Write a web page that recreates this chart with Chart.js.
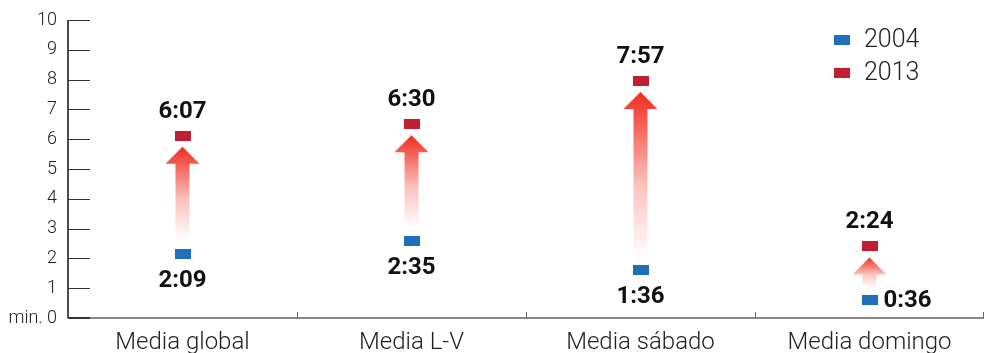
<!DOCTYPE html>
<html>
<head>
<meta charset="utf-8">
<script src="https://cdn.jsdelivr.net/npm/chart.js@4/dist/chart.umd.min.js"></script>
<style>
html,body{margin:0;padding:0;background:#fff;}
#wrap{width:993px;height:353px;position:relative;}
</style>
</head>
<body>
<div id="wrap"><canvas id="c" width="993" height="353"></canvas></div>
<script>
const categories = ['Media global', 'Media L-V', 'Media sábado', 'Media domingo'];
const values2004 = [2.15, 2.583, 1.6, 0.6];
const values2013 = [6.117, 6.5, 7.95, 2.4];
const labels2004 = ['2:09', '2:35', '1:36', '0:36'];
const labels2013 = ['6:07', '6:30', '7:57', '2:24'];
const seriesNames = ['2004', '2013'];
const yTickValues = [0, 1, 2, 3, 4, 5, 6, 7, 8, 9, 10];

const BLUE = '#1f6fbd';
const RED = '#c01f31';
const FONT = 'Roboto, "Open Sans", sans-serif';

function rectStyle(color) {
  const cv = document.createElement('canvas');
  cv.width = 16; cv.height = 10;
  const g = cv.getContext('2d');
  g.fillStyle = color;
  g.fillRect(0, 0, 16, 10);
  return cv;
}

const decorPlugin = {
  id: 'decor',
  beforeDatasetsDraw(chart) {
    const ctx = chart.ctx;
    const x = chart.scales.x, y = chart.scales.y;
    const ca = chart.chartArea;
    ctx.save();
    ctx.strokeStyle = '#111';
    ctx.lineWidth = 1.5;
    ctx.beginPath();
    ctx.moveTo(ca.left, y.getPixelForValue(10));
    ctx.lineTo(ca.left, y.getPixelForValue(0));
    ctx.stroke();
    ctx.lineWidth = 1;
    ctx.strokeStyle = '#333';
    yTickValues.forEach(v => {
      const py = Math.round(y.getPixelForValue(v)) + 0.5;
      ctx.beginPath();
      ctx.moveTo(ca.left, py);
      ctx.lineTo(ca.left + 22, py);
      ctx.stroke();
    });
    const y0 = y.getPixelForValue(0);
    ctx.strokeStyle = '#8a8a8a';
    ctx.lineWidth = 2;
    ctx.beginPath();
    ctx.moveTo(ca.left, y0);
    ctx.lineTo(ca.right, y0);
    ctx.stroke();
    ctx.strokeStyle = '#333';
    ctx.beginPath();
    ctx.moveTo(ca.left, y0);
    ctx.lineTo(ca.left + 22, y0);
    ctx.stroke();
    ctx.strokeStyle = '#666';
    ctx.lineWidth = 1;
    for (let i = 0; i < categories.length; i++) {
      let bx;
      if (i < categories.length - 1) bx = (x.getPixelForValue(i) + x.getPixelForValue(i + 1)) / 2;
      else bx = ca.right - 1;
      bx = Math.round(bx) + 0.5;
      ctx.beginPath();
      ctx.moveTo(bx, y0 - 6);
      ctx.lineTo(bx, y0);
      ctx.stroke();
    }
    for (let i = 0; i < categories.length; i++) {
      const cx = x.getPixelForValue(i);
      const top = y.getPixelForValue(values2013[i]) + 11;
      const bottom = y.getPixelForValue(values2004[i]) - 13;
      const headH = 17, headW = 17, shaftW = 7;
      const grad = ctx.createLinearGradient(0, top, 0, bottom);
      grad.addColorStop(0, 'rgba(240,45,30,1)');
      grad.addColorStop(0.55, 'rgba(240,45,30,0.3)');
      grad.addColorStop(1, 'rgba(240,45,30,0)');
      ctx.fillStyle = grad;
      ctx.beginPath();
      ctx.moveTo(cx, top);
      ctx.lineTo(cx + headW, top + headH);
      ctx.lineTo(cx + shaftW, top + headH);
      ctx.lineTo(cx + shaftW, bottom);
      ctx.lineTo(cx - shaftW, bottom);
      ctx.lineTo(cx - shaftW, top + headH);
      ctx.lineTo(cx - headW, top + headH);
      ctx.closePath();
      ctx.fill();
    }
    ctx.restore();
  },
  afterDatasetsDraw(chart) {
    const ctx = chart.ctx;
    const x = chart.scales.x, y = chart.scales.y;
    ctx.save();
    ctx.fillStyle = '#111';
    ctx.font = 'bold 24px ' + FONT;
    ctx.textBaseline = 'middle';
    for (let i = 0; i < categories.length; i++) {
      const cx = x.getPixelForValue(i);
      const p13 = y.getPixelForValue(values2013[i]);
      const p04 = y.getPixelForValue(values2004[i]);
      ctx.textAlign = 'center';
      ctx.fillText(labels2013[i], cx, p13 - 24);
      if (i === categories.length - 1) {
        ctx.textAlign = 'left';
        ctx.fillText(labels2004[i], cx + 14, p04 + 1);
      } else {
        ctx.textAlign = 'center';
        ctx.fillText(labels2004[i], cx, p04 + 27);
      }
    }
    const colors = [BLUE, RED];
    const ys = [40, 73];
    ctx.font = '300 25px ' + FONT;
    ctx.textAlign = 'left';
    for (let k = 0; k < 2; k++) {
      ctx.fillStyle = colors[k];
      ctx.fillRect(834, ys[k] - 5, 16, 10);
      ctx.fillStyle = '#222';
      ctx.fillText(seriesNames[k], 864, ys[k] + 1);
    }
    ctx.restore();
  }
};

new Chart(document.getElementById('c'), {
  type: 'line',
  data: {
    labels: categories,
    datasets: [
      { label: seriesNames[0], data: values2004, showLine: false, pointStyle: rectStyle(BLUE), pointRadius: 8, borderColor: BLUE, backgroundColor: BLUE },
      { label: seriesNames[1], data: values2013, showLine: false, pointStyle: rectStyle(RED), pointRadius: 8, borderColor: RED, backgroundColor: RED }
    ]
  },
  options: {
    responsive: false,
    animation: false,
    events: [],
    layout: { padding: { top: 20, right: 3, left: 0, bottom: 0 } },
    plugins: { legend: { display: false }, tooltip: { enabled: false } },
    scales: {
      x: {
        type: 'category',
        offset: true,
        grid: { display: false },
        border: { display: false },
        ticks: { color: '#222', font: { family: FONT, size: 24, weight: '300' }, padding: 3, maxRotation: 0 },
        afterFit(s) { s.height = 35; }
      },
      y: {
        min: 0, max: 10,
        grid: { display: false },
        border: { display: false },
        afterBuildTicks(s) { s.ticks = yTickValues.map(v => ({ value: v })); },
        ticks: {
          color: '#222',
          font: { family: FONT, size: 18, weight: '300' },
          padding: 3,
          callback: v => (v === 0 ? 'min. 0' : String(v))
        },
        afterFit(s) { s.width = 68; }
      }
    }
  },
  plugins: [decorPlugin]
});
</script>
</body>
</html>
